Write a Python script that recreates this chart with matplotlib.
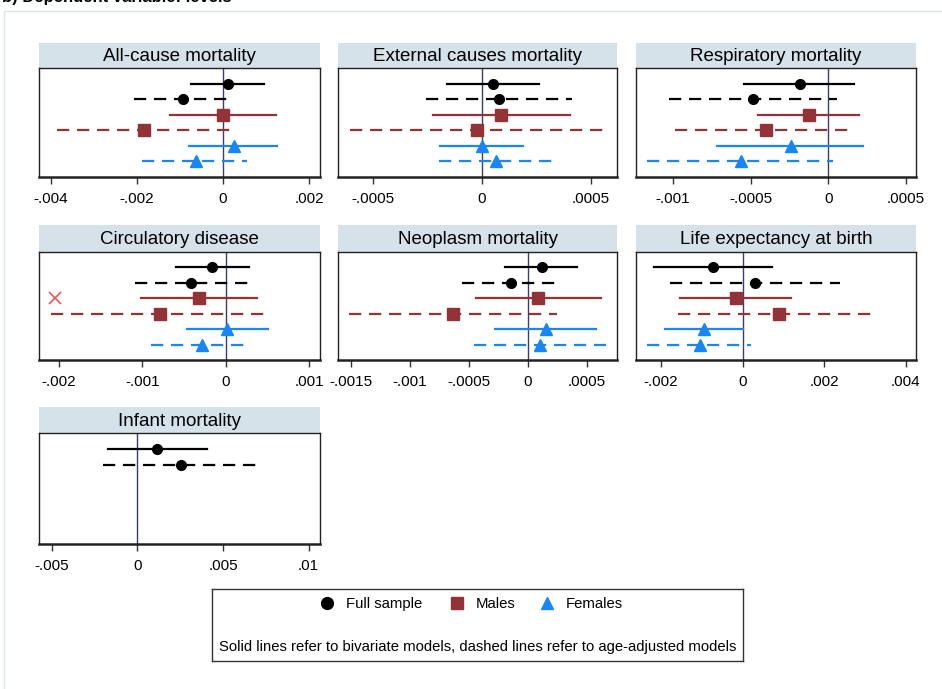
import numpy as np
import matplotlib
matplotlib.use("Agg")
import matplotlib.pyplot as plt
from matplotlib.patches import Rectangle

plt.rcParams['font.family'] = ['Liberation Sans', 'DejaVu Sans']

# coefficient and 95% CI, rows: full/males/females x bivariate/age-adjusted
allcause_est = [0.000116, -0.000922, -0.00001, -0.001837, 0.000256, -0.000636]
allcause_lo = [-0.000744, -0.00206, -0.00123, -0.00387, -0.000783, -0.00189]
allcause_hi = [0.000953, 0.000163, 0.001225, 0.000163, 0.001264, 0.000566]

external_est = [0.0000504, 0.000081, 0.00009, -0.0000229, 0.0, 0.0000656]
external_lo = [-0.00016, -0.000256, -0.000224, -0.000606, -0.000194, -0.000195]
external_hi = [0.000264, 0.000415, 0.000405, 0.000573, 0.000191, 0.000321]

resp_est = [-0.000185, -0.000487, -0.000122, -0.000399, -0.000243, -0.00056]
resp_lo = [-0.000545, -0.001028, -0.000451, -0.000989, -0.000717, -0.001167]
resp_hi = [0.000163, 0.0000558, 0.000195, 0.000152, 0.000221, 0.0000279]

circ_est = [-0.00016, -0.000416, -0.000316, -0.000792, 0.00002, -0.00028]
circ_lo = [-0.000592, -0.001084, -0.001016, -0.002096, -0.000464, -0.000896]
circ_hi = [0.000284, 0.000276, 0.000376, 0.000516, 0.000504, 0.000264]
circ_flag = -0.002044  # stray marker on the males bivariate row

neo_est = [0.000118, -0.000138, 0.0000901, -0.000631, 0.000155, 0.000104]
neo_lo = [-0.000189, -0.000558, -0.000434, -0.001513, -0.000273, -0.000451]
neo_hi = [0.000423, 0.000256, 0.00062, 0.000245, 0.000577, 0.000668]

life_est = [-0.000736, 0.000294, -0.000163, 0.000899, -0.00094, -0.001054]
life_lo = [-0.002182, -0.00179, -0.001545, -0.001594, -0.001896, -0.002346]
life_hi = [0.000719, 0.002378, 0.001185, 0.003277, 0.0, 0.000204]

infant_est = [0.001172, 0.002539]
infant_lo = [-0.001738, -0.002031]
infant_hi = [0.004063, 0.00709]

titles = ["All-cause mortality", "External causes mortality", "Respiratory mortality",
          "Circulatory disease", "Neoplasm mortality", "Life expectancy at birth",
          "Infant mortality"]
xlims = [(-0.00428, 0.002256), (-0.000661, 0.000621), (-0.001238, 0.000564),
         (-0.002236, 0.001128), (-0.001608, 0.000758), (-0.002616, 0.00425),
         (-0.00574, 0.010664)]
xticks = [[-0.004, -0.002, 0, 0.002], [-0.0005, 0, 0.0005], [-0.001, -0.0005, 0, 0.0005],
          [-0.002, -0.001, 0, 0.001], [-0.0015, -0.001, -0.0005, 0, 0.0005],
          [-0.002, 0, 0.002, 0.004], [-0.005, 0, 0.005, 0.01]]

ests = [allcause_est, external_est, resp_est, circ_est, neo_est, life_est, infant_est]
los = [allcause_lo, external_lo, resp_lo, circ_lo, neo_lo, life_lo, infant_lo]
his = [allcause_hi, external_hi, resp_hi, circ_hi, neo_hi, life_hi, infant_hi]

black = '#000000'
red = '#923338'
blue = '#1a86f0'
strip = '#d6e2e9'
row_colors = [black, black, red, red, blue, blue]
row_markers = ['o', 'o', 's', 's', '^', '^']
row_msize = [7, 7, 8, 8, 8.5, 8.5]
dashed = (0, (5.5, 3.5))
row_styles = ['-', dashed, '-', dashed, '-', dashed]


def stata_label(v):
    if v == 0:
        return '0'
    s = ('%.4f' % v).rstrip('0')
    return s.replace('0.', '.', 1)


W, H = 942, 689
fig = plt.figure(figsize=(W / 100, H / 100), dpi=100)

# light frame around the graph area
fig.patches.append(Rectangle((4 / W, -0.01), 1.0, 1 - 11 / H + 0.01, transform=fig.transFigure,
                             fill=False, edgecolor='#dfe5e5', lw=1.0))
fig.text(2 / W, 1 - 2 / H, "b) Dependent variable: levels", fontsize=12, fontweight='bold',
         va='baseline', ha='left')

cols = [(39, 320), (338, 617), (636, 916)]
rows = [(43, 68, 177), (225, 252, 360), (407, 433, 544)]


def px_axes(x0, x1, y0, y1):
    return fig.add_axes([x0 / W, 1 - y1 / H, (x1 - x0) / W, (y1 - y0) / H])


for i, title in enumerate(titles):
    c0, c1 = cols[i % 3]
    s0, b0, b1 = rows[i // 3]

    # title strip
    sax = px_axes(c0, c1, s0, b0)
    sax.set_facecolor(strip)
    sax.set_xticks([])
    sax.set_yticks([])
    for sp in sax.spines.values():
        sp.set_visible(False)
    sax.text(0.5, 0.45, title, ha='center', va='center', fontsize=13.5, transform=sax.transAxes)

    ax = px_axes(c0, c1, b0, b1)
    ax.set_xlim(*xlims[i])
    ax.set_ylim(7, 0)
    ax.axvline(0, color='#3b3d6b', lw=1.0, zorder=1)

    est, lo, hi = ests[i], los[i], his[i]
    ypos = np.arange(1, len(est) + 1)
    for k in range(len(est)):
        ax.plot([lo[k], hi[k]], [ypos[k], ypos[k]], color=row_colors[k],
                linestyle=row_styles[k], lw=1.6, zorder=2)
        ax.plot(est[k], ypos[k], marker=row_markers[k], color=row_colors[k],
                markersize=row_msize[k], linestyle='none', zorder=3)
    if i == 3:
        ax.plot(circ_flag, 3, marker='x', color='#e0575c', markersize=8, mew=1.2, zorder=3)

    ax.set_yticks([])
    ax.set_xticks(xticks[i])
    ax.set_xticklabels([stata_label(v) for v in xticks[i]])
    ax.tick_params(axis='x', direction='out', length=5, width=1.0, labelsize=11, pad=6,
                   color='#333333')
    for name, sp in ax.spines.items():
        sp.set_color('#222222')
        sp.set_linewidth(1.0)
    ax.spines['bottom'].set_linewidth(1.8)

# legend box
lax = px_axes(212, 743, 589, 661)
lax.set_xlim(0, 531)
lax.set_ylim(72, 0)
lax.set_xticks([])
lax.set_yticks([])
for sp in lax.spines.values():
    sp.set_color('#333333')
    sp.set_linewidth(1.0)

legend_names = ["Full sample", "Males", "Females"]
legend_colors = [black, red, blue]
legend_markers = ['o', 's', '^']
legend_x = [115, 245, 335]
for name, col, mk, lx in zip(legend_names, legend_colors, legend_markers, legend_x):
    lax.plot(lx, 14, marker=mk, color=col, markersize=8.5, linestyle='none')
    lax.text(lx + 19, 15, name, fontsize=10.7, va='center', ha='left')
lax.text(265.5, 58, "Solid lines refer to bivariate models, dashed lines refer to age-adjusted models",
         fontsize=10.7, ha='center', va='center')

fig.savefig("out.png", dpi=100)
